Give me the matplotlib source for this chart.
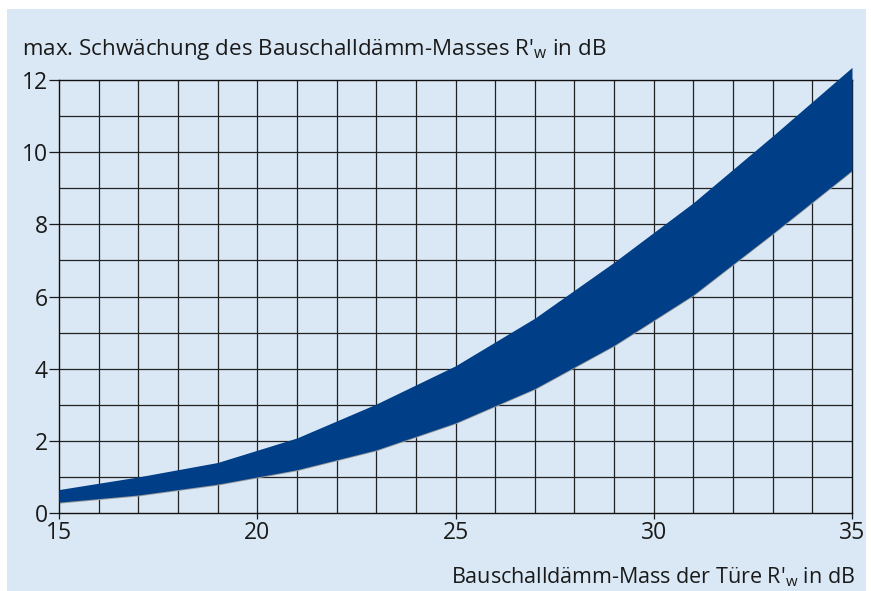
import numpy as np
import matplotlib
matplotlib.use('Agg')
import matplotlib.pyplot as plt
from matplotlib.patches import Rectangle

plt.rcParams['font.family'] = ['Open Sans', 'DejaVu Sans']
plt.rcParams['mathtext.fontset'] = 'custom'
plt.rcParams['mathtext.rm'] = 'Open Sans'

# door sound insulation R'w (x) vs max. reduction of the building value (band)
door_rw = [15, 17, 19, 21, 23, 25, 27, 29, 31, 33, 35]
upper = [0.65, 1.0, 1.4, 2.08, 3.02, 4.08, 5.4, 6.95, 8.6, 10.45, 12.35]
lower = [0.3, 0.5, 0.8, 1.2, 1.75, 2.5, 3.45, 4.65, 6.05, 7.75, 9.5]

xticks = [15, 20, 25, 30, 35]
yticks = [0, 2, 4, 6, 8, 10, 12]

bg = '#dae8f5'
band = '#003f87'
txt = '#1a1a1a'

fig = plt.figure(figsize=(8.71, 5.91), dpi=100, facecolor='white')
fig.patches.append(Rectangle((7/871, 0), 859/871, 1 - 9/591, transform=fig.transFigure,
                             facecolor=bg, edgecolor='none', zorder=-10))

ax = fig.add_axes([59/871, 1 - 513/591, 793/871, 433/591])
ax.set_facecolor(bg)
ax.set_xlim(15, 35)
ax.set_ylim(0, 12)

for v in np.arange(16, 35):
    ax.axvline(v, color='#222222', lw=0.9, zorder=1)
for v in np.arange(1, 12):
    ax.axhline(v, color='#222222', lw=0.9, zorder=1)

for s in ax.spines.values():
    s.set_color('#111111')
    s.set_linewidth(1.0)

# faint grey edge under the band
ax.plot(door_rw, lower, color='#9a9a9a', lw=2.2, zorder=2, clip_on=False,
        solid_capstyle='butt')
ax.fill_between(door_rw, lower, upper, color=band, lw=0, zorder=3, clip_on=False)

ax.set_xticks(xticks)
ax.set_yticks(yticks)
ax.tick_params(axis='y', length=7, width=0.9, pad=1, labelsize=16.5, colors=txt)
ax.tick_params(axis='x', length=4, width=0.9, pad=2, labelsize=16.5, colors=txt)

fig.text(22/871, 1 - 55/591, "max. Schwächung des Bauschalldämm-Masses R'$_{\\mathrm{w}}$ in dB",
         fontsize=16.1, color=txt, ha='left', va='baseline')
fig.text(855/871, 1 - 583/591, "Bauschalldämm-Mass der Türe R'$_{\\mathrm{w}}$ in dB",
         fontsize=15.5, color=txt, ha='right', va='baseline')

fig.savefig('out.png', dpi=100, facecolor='white')
